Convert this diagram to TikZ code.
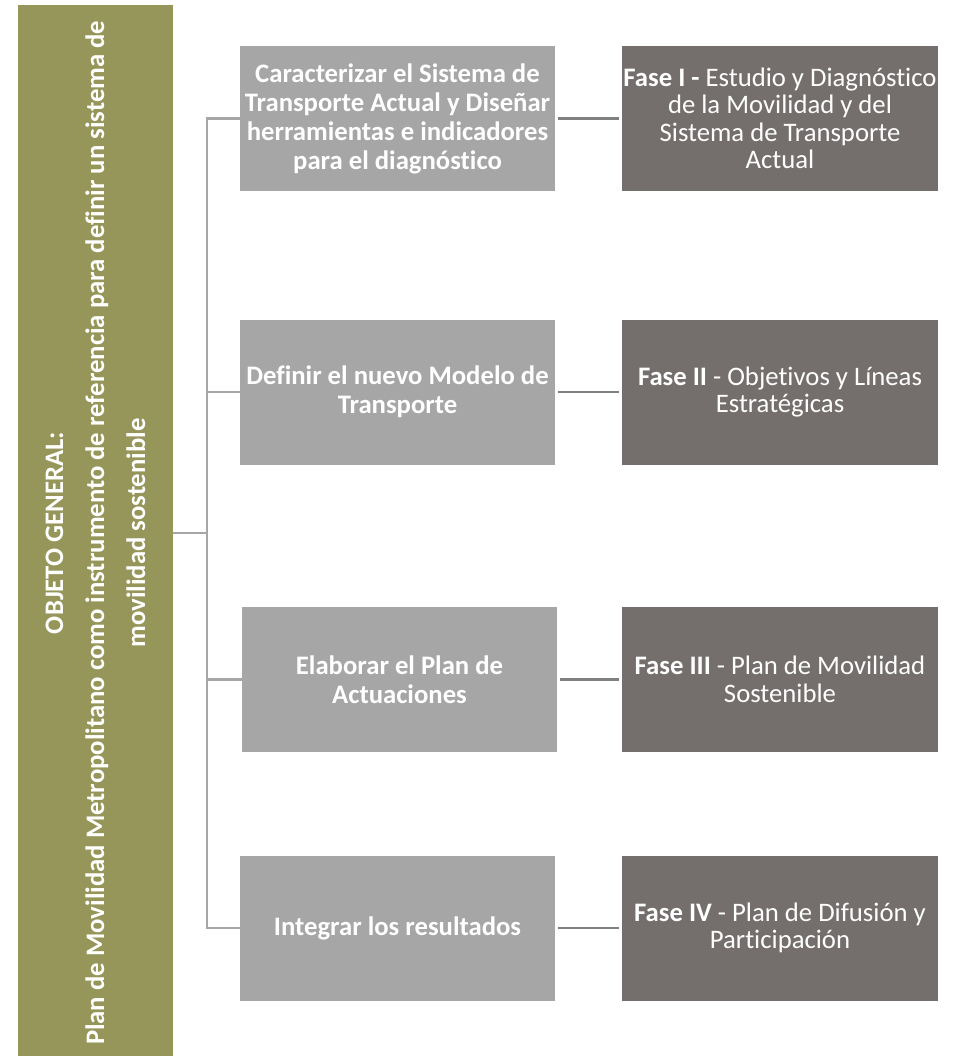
\documentclass[tikz,border=0pt]{standalone}
\usepackage{fontspec}
\setmainfont{Carlito}[Ligatures=NoCommon]
\usepackage{tikz}
\definecolor{goalgreen}{RGB}{151,150,90}
\definecolor{taskgrey}{RGB}{166,166,166}
\definecolor{phasegrey}{RGB}{116,111,109}
\definecolor{bracketgrey}{RGB}{166,166,166}
\definecolor{linkgrey}{RGB}{128,128,128}
\begin{document}
\begin{tikzpicture}[x=1pt,y=-1pt]
		\tikzstyle{every node}=[text=white, inner sep=0pt, align=center, font=\fontsize{26.7}{27.5}\selectfont]
		\tikzstyle{goalbox}=[fill=goalgreen, rotate=90, minimum width=1056pt, minimum height=155pt, font=\fontsize{26.7}{41}\selectfont\bfseries]
		\tikzstyle{taskbox}=[fill=taskgrey, minimum width=315pt, minimum height=145pt, font=\fontsize{26.7}{29}\selectfont\bfseries]
		\tikzstyle{phasebox}=[fill=phasegrey, minimum width=316pt, minimum height=145pt]
		\tikzstyle{bracket}=[draw=bracketgrey, line width=2.3pt]
		\tikzstyle{link}=[draw=linkgrey, line width=2.8pt, shorten <=3pt, shorten >=3pt]
		\useasboundingbox (0,0) rectangle (953,1056);
		\node[goalbox] (goal) at (95.5,533) {OBJETO GENERAL:\\Plan de Movilidad Metropolitano como instrumento de referencia para definir un sistema de\\movilidad sostenible};
		\node[taskbox] (task1) at (397.5,118.5) {Caracterizar el Sistema de\\Transporte Actual y Diseñar\\herramientas e indicadores\\para el diagnóstico};
		\node[taskbox] (task2) at (397.5,392) {Definir el nuevo Modelo de\\Transporte};
		\node[taskbox] (task3) at (399.5,679.5) {Elaborar el Plan de\\Actuaciones};
		\node[taskbox] (task4) at (397.5,928) {Integrar los resultados};
		\node[phasebox] (phase1) at (780,118.5) {\textbf{Fase I -} Estudio y Diagnóstico\\de la Movilidad y del\\Sistema de Transporte\\Actual};
		\node[phasebox] (phase2) at (780,392) {\textbf{Fase II} - Objetivos y Líneas\\Estratégicas};
		\node[phasebox] (phase3) at (780,679.5) {\textbf{Fase III} - Plan de Movilidad\\Sostenible};
		\node[phasebox] (phase4) at (780,928) {\textbf{Fase IV} - Plan de Difusión y\\Participación};
		\coordinate (hub) at (207,533);
		\draw[bracket]{
			(goal.south) -- (hub)
			(task1.west) -- (task1.west -| hub) -- (task4.west -| hub) -- (task4.west)
			(task2.west) -- (task2.west -| hub)
			(task3.west) -- (task3.west -| hub)
		};
		\draw[link] (task1.east) -- (phase1.west);
		\draw[link] (task2.east) -- (phase2.west);
		\draw[link] (task3.east) -- (phase3.west);
		\draw[link] (task4.east) -- (phase4.west);
	\end{tikzpicture}
\end{document}
